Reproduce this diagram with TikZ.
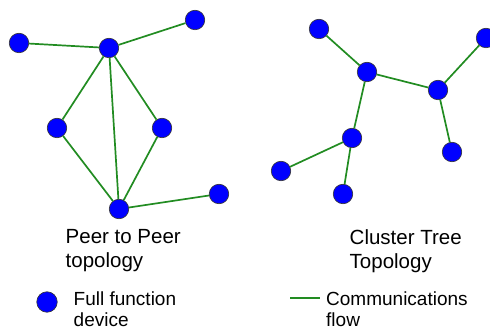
\documentclass[tikz,border=0pt]{standalone}
\usepackage{fontspec}
\setmainfont{Liberation Sans}
\usepackage{xcolor}
\usetikzlibrary{positioning}
\definecolor{flowgreen}{RGB}{34,140,34}

\begin{document}
\begin{tikzpicture}[
    x=1pt, y=-1pt,
    device/.style={circle, draw=black!80, fill=blue, minimum size=19.5pt, inner sep=0pt, line width=0.6pt},
    flow/.style={flowgreen, line width=1.7pt},
    topotext/.style={anchor=north west, align=left, inner sep=0pt, font=\fontsize{20.5}{24}\selectfont},
    keytext/.style={anchor=north west, align=left, inner sep=0pt, font=\fontsize{19}{21}\selectfont}
]
    \useasboundingbox (0,0) rectangle (490,331);

    % peer to peer
    \node[device] (p2p-hub) at (109,48) {};
    \node[device] (p2p-ne) at (195,20) {};
    \node[device] (p2p-w) at (19,43) {};
    \node[device] (p2p-l) at (57,128) {};
    \node[device] (p2p-r) at (162,128) {};
    \node[device] (p2p-low) at (119,209) {};
    \node[device] (p2p-se) at (219,194) {};

    \draw[flow] (p2p-w) -- (p2p-hub);
    \draw[flow] (p2p-hub) -- (p2p-ne);
    \draw[flow] (p2p-hub) -- (p2p-l);
    \draw[flow] (p2p-hub) -- (p2p-r);
    \draw[flow] (p2p-hub) -- (p2p-low);
    \draw[flow] (p2p-l) -- (p2p-low);
    \draw[flow] (p2p-r) -- (p2p-low);
    \draw[flow] (p2p-low) -- (p2p-se);

    % cluster tree
    \node[device] (ct-head) at (367,72) {};
    \node[device] (ct-nw) at (319,29) {};
    \node[device] (ct-right) at (438,90) {};
    \node[device] (ct-ne) at (486,38) {};
    \node[device] (ct-se) at (452,152) {};
    \node[device] (ct-mid) at (352,138) {};
    \node[device] (ct-sw) at (281,171) {};
    \node[device] (ct-low) at (343,194) {};

    \draw[flow] (ct-nw) -- (ct-head);
    \draw[flow] (ct-head) -- (ct-right);
    \draw[flow] (ct-right) -- (ct-ne);
    \draw[flow] (ct-right) -- (ct-se);
    \draw[flow] (ct-head) -- (ct-mid);
    \draw[flow] (ct-mid) -- (ct-sw);
    \draw[flow] (ct-mid) -- (ct-low);

    \node[topotext] (p2p-name) at (65.5,229.5) {Peer to Peer\\topology};
    \node[topotext] (ct-name) at (349.5,229.5) {Cluster Tree\\Topology};

    % legend
    \node[device, minimum size=20.5pt] (key-dot) at (47,302) {};
    \node[keytext] (key-dot-text) at (73.5,292) {Full function\\device};
    \coordinate (key-a) at (290,298);
    \coordinate (key-b) at (320,298);
    \draw[flow, line width=1.5pt] (key-a) -- (key-b);
    \node[keytext] (key-line-text) at (326,292) {Communications\\flow};
\end{tikzpicture}
\end{document}
